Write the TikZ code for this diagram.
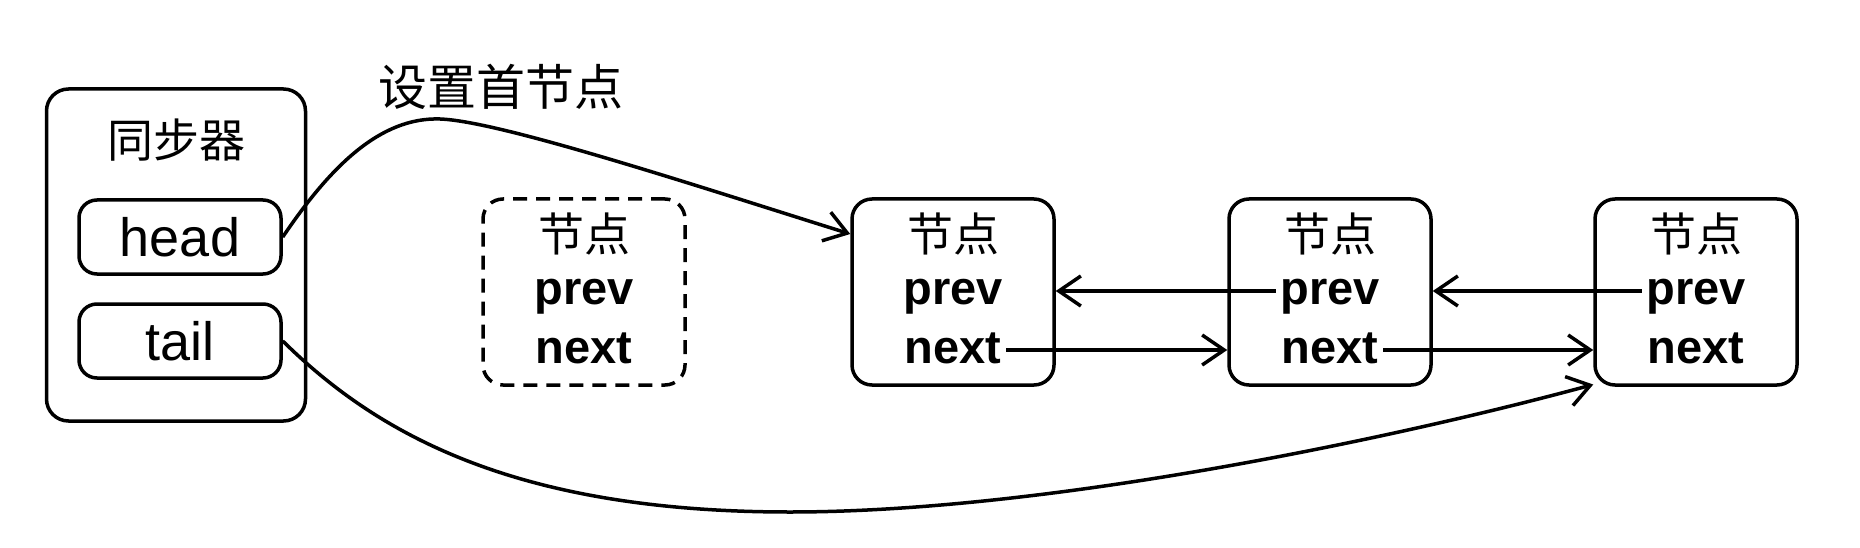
\documentclass[tikz,border=0pt]{standalone}
\usepackage{fontspec}
\setmainfont{Liberation Sans}
\newfontfamily\cjk{Noto Sans CJK SC}
\usetikzlibrary{arrows.meta}
\begin{document}
\begin{tikzpicture}[x=1pt,y=1pt,line width=3.5pt,
    nodebox/.style={draw,rounded corners=20pt,minimum width=202pt,minimum height=186pt},
    dashbox/.style={nodebox,dash pattern=on 14pt off 9pt},
    slot/.style={draw,rounded corners=18pt,minimum width=202pt,minimum height=74pt,
        font=\fontsize{54}{54}\selectfont},
    cjkname/.style={font=\cjk\fontsize{46}{46}\selectfont,inner sep=0pt},
    field/.style={font=\fontsize{47}{47}\selectfont\bfseries,inner xsep=3pt,inner ysep=0pt,
        text height=26pt,text depth=0pt},
    ptr/.style={-{Straight Barb[length=22pt,width=30pt]}}
]
    \useasboundingbox (0,0) rectangle (1860,547);

    \node[draw,rounded corners=22pt,minimum width=259pt,minimum height=332pt] (sync) at (176,292) {};
    \node[cjkname] (syncname) at (176,407) {同步器};
    \node[slot] (head) at (180,310) {head};
    \node[slot] (tail) at (180,206) {tail};
    \node[cjkname,font=\cjk\fontsize{49}{49}\selectfont] (sethead) at (501,460) {设置首节点};

    \foreach \i/\x/\s in {0/584/dashbox,1/953/nodebox,2/1330/nodebox,3/1696/nodebox} {
        \node[\s] (n\i) at (\x,255) {};
        \node[cjkname] (t\i) at (\x,313) {节点};
        \node[field] (p\i) at (\x,256) {prev};
        \node[field] (x\i) at (\x,197) {next};
    }

    \draw[ptr] (p2.west) -- (p2.west -| n1.east);
    \draw[ptr] (p3.west) -- (p3.west -| n2.east);
    \draw[ptr] (x1.east) -- (x1.east -| n2.west);
    \draw[ptr] (x2.east) -- (x2.east -| n3.west);

    \draw[ptr] (head.east) .. controls (330,380) and (380,430) .. (440,428)
        .. controls (500,426) and (700,360) .. (n1.west |- t1.center);
    \draw[ptr] (tail.east) .. controls (380,110) and (520,35) .. (790,35)
        .. controls (1050,35) and (1400,110) .. (n3.222);
\end{tikzpicture}
\end{document}
